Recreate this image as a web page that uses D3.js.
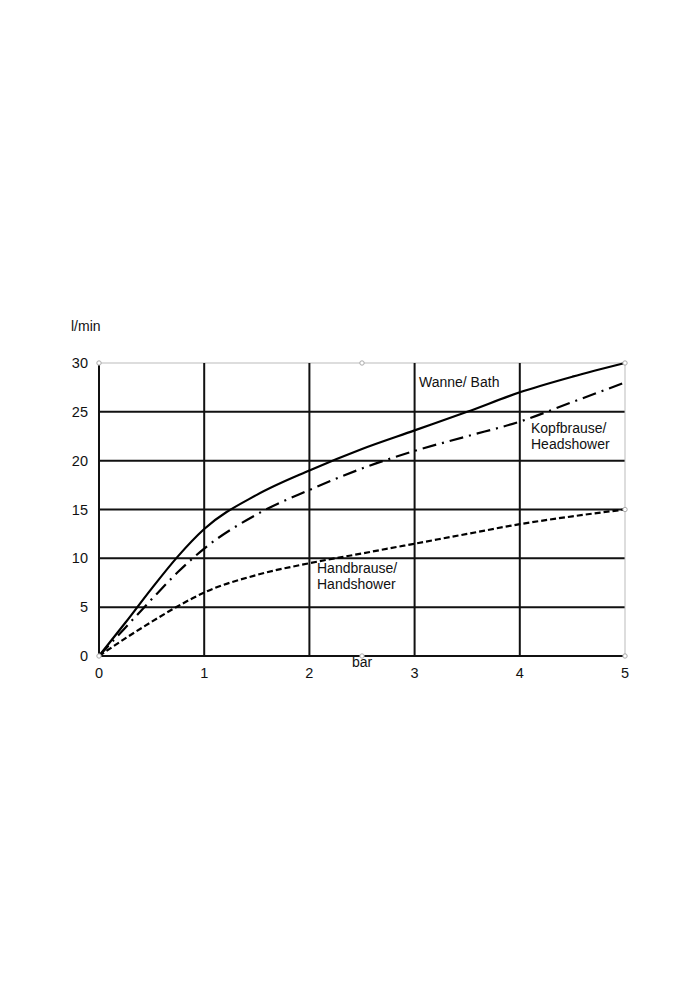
<!DOCTYPE html>
<html><head><meta charset="utf-8">
<script src="https://cdn.jsdelivr.net/npm/d3@7"></script>
<style>body{margin:0;background:#fff}</style>
</head><body>
<script>
const xValues = [0,0.25,0.5,0.75,1,1.5,2,2.5,3,3.5,4,4.5,5];
const bath = [0,3.4,6.9,10.2,13.0,16.5,19.0,21.2,23.1,25.0,27.0,28.6,30];
const headshower = [0,2.9,5.8,8.6,11.0,14.5,17.0,19.2,21.0,22.5,24.0,26.0,28.0];
const handshower = [0,1.8,3.5,5.1,6.5,8.3,9.5,10.5,11.5,12.5,13.5,14.3,15];
const xTicks = [0,1,2,3,4,5];
const yTicks = [0,5,10,15,20,25,30];

const W=700,H=1000;
const svg=d3.select("body").append("svg").attr("width",W).attr("height",H);
const x=d3.scaleLinear().domain([0,5]).range([99,625]);
const y=d3.scaleLinear().domain([0,30]).range([656,363]);
const font="Liberation Sans, Arial, sans-serif";

// gridlines
svg.append("g").selectAll("line").data(yTicks).join("line")
 .attr("x1",x(0)).attr("x2",x(5)).attr("y1",d=>y(d)).attr("y2",d=>y(d))
 .attr("stroke",d=>d===30?"#bbb":"#111").attr("stroke-width",d=>d===30?1:2);
svg.append("g").selectAll("line").data(xTicks).join("line")
 .attr("y1",y(0)).attr("y2",y(30)).attr("x1",d=>x(d)).attr("x2",d=>x(d))
 .attr("stroke",d=>d===5?"#bbb":"#111").attr("stroke-width",d=>d===5?1:2);

// tick labels
svg.append("g").selectAll("text").data(yTicks).join("text")
 .attr("x",88).attr("y",d=>y(d)+5).attr("text-anchor","end")
 .attr("font-family",font).attr("font-size",14.5).attr("fill","#111").text(d=>d);
svg.append("g").selectAll("text").data(xTicks).join("text")
 .attr("x",d=>x(d)).attr("y",678).attr("text-anchor","middle")
 .attr("font-family",font).attr("font-size",14.5).attr("fill","#111").text(d=>d);

const line=(vals)=>d3.line().x((d,i)=>x(xValues[i])).y(d=>y(d)).curve(d3.curveMonotoneX)(vals);
svg.append("path").attr("d",line(bath)).attr("fill","none").attr("stroke","#000").attr("stroke-width",2.2);
svg.append("path").attr("d",line(headshower)).attr("fill","none").attr("stroke","#000").attr("stroke-width",2.2).attr("stroke-dasharray","14,6,2,6");
svg.append("path").attr("d",line(handshower)).attr("fill","none").attr("stroke","#000").attr("stroke-width",2.2).attr("stroke-dasharray","6,3");

// handles
const handles=[[0,30],[2.5,30],[5,30],[5,15],[5,0],[2.5,0],[0,0]];
svg.append("g").selectAll("circle").data(handles).join("circle")
 .attr("cx",d=>x(d[0])).attr("cy",d=>y(d[1])).attr("r",2.2)
 .attr("fill","#fff").attr("stroke","#aaa").attr("stroke-width",1);

// labels
const txt=(t,xx,yy)=>svg.append("text").attr("x",xx).attr("y",yy).attr("font-family",font)
 .attr("font-size",14).attr("fill","#111").text(t);
txt("l/min",71,331);
txt("Wanne/ Bath",419,387);
txt("Kopfbrause/",531,433);
txt("Headshower",531,449);
txt("Handbrause/",317,573);
txt("Handshower",317,589);
txt("bar",352,667);
</script>
</body></html>
